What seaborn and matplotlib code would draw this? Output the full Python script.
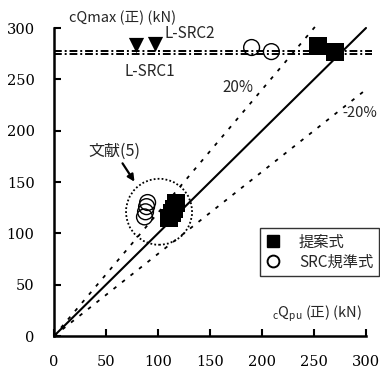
import matplotlib
matplotlib.use("Agg")
import matplotlib.pyplot as plt
import seaborn as sns
import pandas as pd
import numpy as np
from matplotlib.patches import Ellipse
from matplotlib.lines import Line2D

# Data
prop_x = [254, 270, 117, 115, 113, 111]
prop_y = [282, 277, 130, 124, 120, 115]
src_x = [190, 209, 90, 89, 88, 87]
src_y = [281, 277, 130, 126, 121, 116]
lsrc_x = [79, 97]
lsrc_y = [283, 284]
lsrc_levels = [278, 275]
ratio_lines = [1.0, 1.2, 0.8]
xticks = [0, 50, 100, 150, 200, 250, 300]
yticks = [0, 50, 100, 150, 200, 250, 300]

sns.set_theme(style="ticks")
plt.rcParams['font.family'] = ['Noto Sans CJK JP', 'DejaVu Sans']
plt.rcParams['mathtext.fontset'] = 'custom'
plt.rcParams['mathtext.rm'] = 'Noto Sans CJK JP'

fig = plt.figure(figsize=(3.8, 3.74), dpi=100)
ax = fig.add_axes([54/380, 38/374, 312/380, 308/374])

df_p = pd.DataFrame({"x": prop_x, "y": prop_y})
df_s = pd.DataFrame({"x": src_x, "y": src_y})
df_l = pd.DataFrame({"x": lsrc_x, "y": lsrc_y})

# reference lines
ax.plot([0, 300], [0, 300 * ratio_lines[0]], color="black", lw=1.5, zorder=2, clip_on=False)
ax.plot([0, 300 / ratio_lines[1] + 3], [0, 300 + 3 * ratio_lines[1]], color="black", lw=1.3,
        ls=(0, (2, 4)), zorder=2, clip_on=False)
ax.plot([0, 300], [0, 300 * ratio_lines[2]], color="black", lw=1.3, ls=(0, (2, 4)), zorder=2)
for lv in lsrc_levels:
    ax.plot([0, 306], [lv, lv], color="black", lw=1.4, ls=(0, (4, 1.5, 1, 1.5)), zorder=2, clip_on=False)

sns.scatterplot(data=df_s, x="x", y="y", marker="o", s=130, facecolor="none",
                edgecolor="black", linewidth=1.0, ax=ax, zorder=3, legend=False)
sns.scatterplot(data=df_p, x="x", y="y", marker="s", s=150, color="black",
                edgecolor="black", linewidth=0, ax=ax, zorder=4, legend=False)
sns.scatterplot(data=df_l, x="x", y="y", marker="v", s=120, color="black",
                edgecolor="black", linewidth=0, ax=ax, zorder=4, legend=False)

# big dotted circle
ax.add_patch(Ellipse((101, 121), 2 * 33 / 1.04, 2 * 33 / 1.027, fill=False,
                     ls=(0, (1, 1.2)), lw=1.3, ec="black", zorder=2))

ax.set_xlim(0, 300)
ax.set_ylim(0, 300)
ax.set_xticks(xticks)
ax.set_yticks(yticks)
ax.set_xticklabels([str(t) for t in xticks], fontfamily="DejaVu Serif", fontsize=10.5)
ax.set_yticklabels([str(t) for t in yticks], fontfamily="DejaVu Serif", fontsize=10.5)
ax.set_xlabel("")
ax.set_ylabel("")
ax.tick_params(direction="in", length=5, width=1.5, colors="black")
ax.tick_params(axis="x", pad=14)
ax.tick_params(axis="y", pad=14)
for s in ["top", "right"]:
    ax.spines[s].set_visible(False)
for s in ["left", "bottom"]:
    ax.spines[s].set_linewidth(1.8)
    ax.spines[s].set_color("black")

# texts
def ftext(x, y, s, fs, **kw):
    fig.text(x / 380, 1 - y / 374, s, fontsize=fs, va="center", ha="left", **kw)

ftext(69, 18, "cQmax (正) (kN)", 10.5)
ftext(165, 34, "L-SRC2", 11)
ftext(124, 71, "L-SRC1", 11)
ftext(222, 88, "20%", 11)
ftext(342, 113, "-20%", 10.5)
ftext(272, 314, r"$_\mathregular{c}$Q$_\mathregular{pu}$ (正) (kN)", 10.5)
ftext(88, 151, "文献(5)", 11.5)
ax.annotate("", xy=(136/380, 1 - 184/374), xycoords="figure fraction",
            xytext=(121/380, 1 - 161/374), textcoords="figure fraction",
            arrowprops=dict(arrowstyle="-|>", color="black", lw=1.6, mutation_scale=10))

handles = [Line2D([], [], marker="s", ls="none", color="black", markersize=8.5),
           Line2D([], [], marker="o", ls="none", mfc="none", mec="black", mew=1.4, markersize=8.5)]
leg = fig.legend(handles, ["提案式", "SRC規準式"], loc="upper left",
                 bbox_to_anchor=(260/380, 1 - 228/374), frameon=True, fancybox=False,
                 edgecolor="black", fontsize=11, handletextpad=1.2, borderpad=0.35,
                 labelspacing=0.2, handlelength=1.0, borderaxespad=0)
leg.get_frame().set_linewidth(1.0)

fig.savefig("out.png", dpi=100)
